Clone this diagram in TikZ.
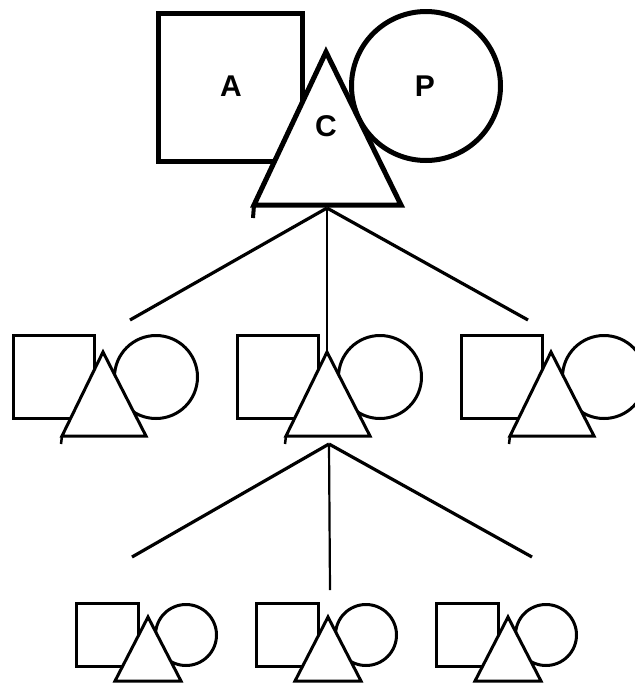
\documentclass[tikz,border=0pt]{standalone}
\usepackage{fontspec}
\setmainfont{Liberation Sans}
\begin{document}
\begin{tikzpicture}[x=1pt,y=-1pt,
  sq/.style={draw,rectangle,inner sep=0pt,outer sep=0pt},
  ci/.style={draw,circle,inner sep=0pt,outer sep=0pt},
  tri/.style={draw,fill=white,line join=miter},
  big/.style={line width=5pt},
  small/.style={line width=3pt},
  link/.style={line width=3.2pt},
  stem/.style={line width=2.2pt},
  lab/.style={font=\fontsize{30}{30}\selectfont\bfseries,inner sep=0pt}]
\useasboundingbox (0,0) rectangle (635,686);

% ---------- top group ----------
\node[sq,big,minimum width=144pt,minimum height=148pt] (tS) at (230.5,87.5) {};
\node[ci,big,minimum size=149pt] (tC) at (426,86) {};
\coordinate (tTa) at (326,52);
\coordinate (tTl) at (254,205);
\coordinate (tTr) at (401,205);
\coordinate (tTb) at (327,208);
\filldraw[tri,big] (tTa) -- (tTl) -- (tTr) -- cycle;
\draw[line width=4pt] (tTl) -- ++(-1,13);
\node[lab] (lA) at (231,86) {A};
\node[lab] (lP) at (425,86) {P};
\node[lab] (lC) at (326,126) {C};

% ---------- middle row ----------
\foreach \n/\ax in {L/103,M/327,R/551}{
  \node[sq,small,minimum width=81pt,minimum height=83pt] (m\n S) at (\ax-49,377) {};
  \node[ci,small,minimum size=83pt] (m\n C) at (\ax+53,377) {};
  \coordinate (m\n a) at (\ax,352);
  \coordinate (m\n l) at (\ax-41,436);
  \coordinate (m\n r) at (\ax+43,436);
  \filldraw[tri,small] (m\n a) -- (m\n l) -- (m\n r) -- cycle;
  \draw[line width=2.5pt] (m\n l) -- ++(-1,8);
}
\coordinate (mMb) at (329,444);

% ---------- bottom row ----------
\foreach \n/\ax in {L/148,M/328,R/508}{
  \node[sq,small,minimum width=62pt,minimum height=63pt] (b\n S) at (\ax-40.5,635) {};
  \node[ci,small,minimum size=61pt] (b\n C) at (\ax+38,635) {};
  \coordinate (b\n a) at (\ax,617);
  \coordinate (b\n l) at (\ax-33,681);
  \coordinate (b\n r) at (\ax+33,681);
  \filldraw[tri,small] (b\n a) -- (b\n l) -- (b\n r) -- cycle;
}

% ---------- connectors ----------
\coordinate (e1) at (130,320);
\coordinate (e2) at (528,320);
\coordinate (e3) at (132,557);
\coordinate (e4) at (532,557);
\coordinate (e5) at (330,590);
\draw[link] (tTb) -- (e1);
\draw[link] (tTb) -- (e2);
\draw[stem] (tTb) -- (mMa);
\draw[link] (mMb) -- (e3);
\draw[link] (mMb) -- (e4);
\draw[stem] (mMb) -- (e5);
\end{tikzpicture}
\end{document}
